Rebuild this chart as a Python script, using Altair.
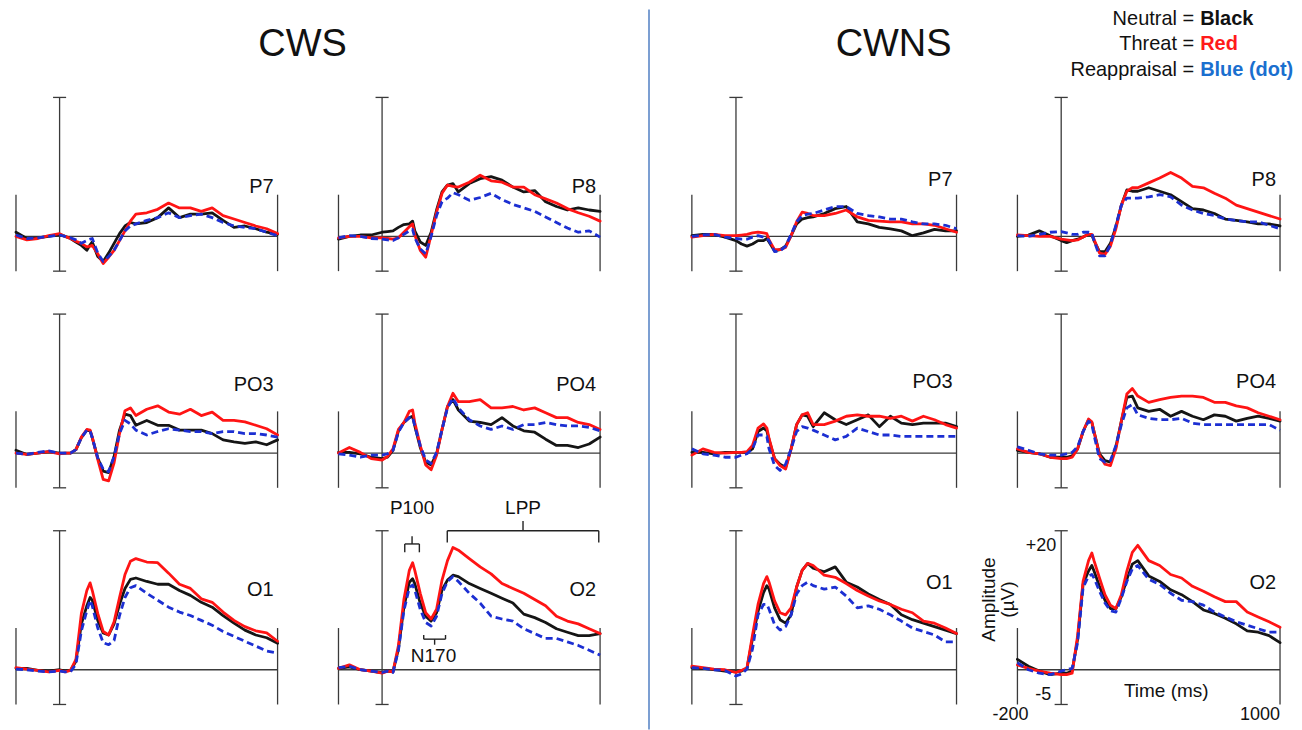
import altair as alt
import pandas as pd

FONT = "Liberation Sans"

# ---------------- data ----------------
TIME = [-200, -150, -100, -50, 0, 25, 50, 75, 100, 125, 140, 150, 175, 200, 225, 250,
        275, 300, 325, 350, 400, 450, 500, 550, 600, 650, 700, 750, 800, 850, 900, 950, 1000]

# CWS group -- Neutral (black), Threat (red), Reappraisal (blue dashed)
CWS_P7_N = [0.6,-0.3,-0.2,0, 0.3,0,-0.3,-0.8, -1.3,-2.0,-1.2,-0.8, -2.9,-3.6,-2.4,-1.0, 0.4,1.5,2.0,1.8, 2.0,2.7,4.1,2.7, 3.2,3.2,3.4,2.3, 1.3,1.5,1.1,0.6, 0.3]
CWS_P7_T = [0,-0.5,-0.3,0.1, 0.4,0,-0.3,-0.7, -1.0,-1.5,-1.4,-1.3, -2.5,-3.9,-3.0,-2.0, -0.6,0.8,2.2,3.2, 3.4,3.9,4.8,4.1, 4.1,3.6,4.1,3.0, 2.5,2.0,1.5,1.1, 0.4]
CWS_P7_R = [0.2,-0.3,-0.2,0, 0.2,0,-0.2,-0.5, -1.0,-0.6,-0.4,-0.3, -2.4,-3.6,-2.9,-2.0, -0.6,0.8,1.5,1.8, 2.3,2.7,3.4,2.7, 3.0,3.2,2.7,2.0, 1.5,1.3,1.1,0.6, 0.1]

CWS_P8_N = [-0.4,0,0.2,0.2, 0.6,0.7,0.8,1.3, 1.7,1.8,2.2,0.8, -0.8,-1.3,0.6,3.8, 6.4,7.4,7.6,6.4, 7.6,8.3,8.6,8.1, 7.1,6.4,6.6,5.0, 4.3,3.8,4.1,3.8, 3.6]
CWS_P8_T = [-0.2,0,0,-0.2, -0.2,-0.3,-0.4,-0.2, 0.6,1.4,1.8,0.2, -2.0,-3.0,0.2,3.5, 6.2,7.4,7.2,7.1, 7.8,8.8,8.0,7.8, 7.1,7.1,6.0,5.4, 4.8,4.0,3.4,2.9, 2.2]
CWS_P8_R = [-0.2,0.1,0,-0.3, -0.4,-0.5,-0.6,-0.2, 0.3,0.8,1.0,-0.2, -1.8,-2.5,0,3.0, 5.0,5.5,6.3,6.0, 5.2,5.6,6.2,5.3, 4.6,4.1,3.6,2.8, 2.0,1.2,0.6,0.8, -0.1]

CWS_PO3_N = [0.4,-0.2,0,0.2, 0,0,0,0.5, 2.2,3.3,3.2,2.2, -0.7,-2.6,-2.8,-0.5, 3.3,5.6,5.4,4.0, 4.7,4.0,4.0,3.3, 3.3,3.3,2.8,1.9, 1.6,1.4,1.6,1.2, 1.9]
CWS_PO3_T = [0,-0.2,0,0.2, -0.1,0,0,0.5, 2.3,3.4,3.3,2.3, -0.9,-3.8,-4.0,-1.4, 2.8,6.1,6.5,5.4, 6.3,6.8,5.9,5.6, 6.3,5.4,5.9,4.7, 4.7,4.5,4.0,3.5, 2.6]
CWS_PO3_R = [0,-0.2,0.1,0.3, 0,0,0,0.5, 2.2,3.3,3.2,2.2, -0.7,-2.3,-2.7,-0.5, 2.8,4.7,4.2,3.3, 2.6,3.1,3.5,3.3, 3.1,3.1,2.8,3.1, 3.1,2.8,2.8,2.6, 2.3]

CWS_PO4_N = [0.1,0.1,-0.1,-0.6, -0.8,-0.6,0.4,3.2, 4.4,5.1,5.3,3.9, 0.8,-1.3,-1.7,-0.1, 3.4,6.7,7.7,6.2, 4.6,4.4,4.1,5.1, 3.9,3.2,3.0,2.0, 1.1,1.1,0.8,1.3, 2.3]
CWS_PO4_T = [0,0.8,0.1,-0.8, -1.0,-0.5,0.6,3.4, 4.4,6.0,6.2,4.4, 1.1,-1.7,-2.4,-0.3, 3.4,6.7,8.6,7.4, 7.4,7.7,6.5,6.5, 6.7,6.2,6.5,5.8, 5.1,5.1,4.4,4.1, 3.4]
CWS_PO4_R = [-0.1,-0.3,-0.6,-0.3, -0.3,-0.1,0.4,3.0, 4.4,5.1,5.2,3.9, 1.1,-1.0,-1.5,0.1, 3.4,6.5,7.9,6.5, 4.8,3.9,3.4,3.9, 3.4,4.1,4.1,4.4, 4.1,3.9,3.9,3.7, 3.2]

CWS_O1_N = [0.2,0.2,-0.1,-0.2, 0,-0.2,-0.1,1.2, 6.6,9.2,10.4,10.0, 7.1,5.3,5.0,6.6, 9.4,11.7,13.0,13.2, 12.7,12.3,12.3,11.4, 10.7,9.7,9.0,7.8, 6.7,5.7,5.0,4.6, 3.8]
CWS_O1_T = [0.3,0.1,-0.1,-0.3, -0.1,-0.3,-0.1,1.5, 8.1,11.4,12.5,11.4, 8.1,5.5,5.0,6.9, 10.4,13.7,15.6,16.0, 15.5,15.4,13.9,12.3, 11.7,10.2,9.7,8.3, 7.1,6.2,5.6,5.3, 4.1]
CWS_O1_R = [0.1,0,-0.2,-0.3, -0.2,-0.3,-0.3,0.8, 5.6,8.5,10.0,9.2, 6.0,3.9,3.6,4.2, 7.8,10.4,11.8,12.1, 11.0,10.0,9.0,8.3, 7.8,7.1,6.4,5.5, 4.8,4.1,3.4,2.7, 2.4]

CWS_O2_N = [0.2,0.4,0,-0.2, -0.4,-0.2,-0.3,3.0, 9.0,12.6,13.1,12.4, 9.6,7.7,7.0,8.2, 11.5,12.9,13.6,13.4, 12.4,11.7,11.0,10.3, 9.6,8.0,7.5,6.8, 5.9,5.4,4.9,4.9, 5.2]
CWS_O2_T = [0.2,0.7,0,-0.2, -0.5,-0.2,-0.3,3.5, 10.1,14.3,15.4,14.3, 11.0,8.2,7.3,8.7, 12.9,15.7,17.6,17.2, 16.0,14.8,13.8,12.4, 11.7,11.0,10.1,9.2, 7.7,7.0,6.6,5.9, 5.2]
CWS_O2_R = [0.3,0.5,0,-0.2, -0.4,-0.2,-0.4,2.8, 8.5,11.8,12.2,11.5, 8.7,6.8,6.3,7.7, 11.0,12.7,13.4,12.7, 11.0,9.6,7.7,7.3, 7.0,5.9,5.2,4.5, 4.5,4.0,3.5,2.8, 2.1]

# CWNS group
CWNS_P7_N = [0.1,0.3,0.3,-0.1, -0.6,-1.1,-1.4,-1.1, -0.6,-0.6,-0.3,-0.8, -2.1,-1.9,-1.4,0.1, 1.8,2.5,2.7,2.8, 3.3,4.0,4.3,2.1, 1.8,1.3,1.1,0.8, 0.1,0.5,1.0,0.8, 0.8]
CWNS_P7_T = [-0.1,0.1,0.3,0.1, 0.1,0.2,0.3,0.5, 0.6,0.5,0.4,-0.5, -1.9,-1.9,-1.6,0.1, 2.1,3.5,3.3,3.0, 3.0,3.3,3.8,2.8, 2.3,2.2,2.1,2.1, 1.8,1.8,1.6,1.1, 0.6]
CWNS_P7_R = [0,0.2,0.3,-0.1, -0.3,-0.4,-0.4,-0.1, 0.1,-0.1,-0.3,-0.6, -2.2,-2.1,-1.4,0.3, 2.1,3.0,3.2,3.3, 3.8,4.3,4.3,3.3, 3.0,2.8,2.5,2.5, 2.1,1.8,1.8,1.6, 1.1]

CWNS_P8_N = [0,0.2,0.8,0.1, -0.6,-0.9,-0.6,-0.4, -0.1,0.3,0.2,-0.6, -2.2,-2.2,-1.0,1.4, 4.5,6.7,6.5,6.5, 7.0,6.5,6.0,5.0, 4.0,3.8,3.3,2.5, 2.3,2.1,1.8,1.8, 1.5]
CWNS_P8_T = [0.2,0.1,0,0, -0.4,-0.5,-0.6,-0.5, -0.1,0.3,0.3,-0.4, -2.4,-2.6,-1.4,1.1, 4.5,6.5,7.0,7.0, 7.7,8.4,9.2,8.4, 7.2,7.0,6.2,5.5, 4.5,4.0,3.5,3.0, 2.5]
CWNS_P8_R = [0.1,0,0.3,0.6, 0.7,0.5,0.3,0.3, 0.6,0.6,0.5,-0.6, -2.8,-2.8,-1.2,1.6, 4.5,5.5,5.5,5.5, 5.7,6.0,5.7,4.5, 3.8,3.3,3.0,2.5, 2.3,2.1,2.1,1.6, 1.1]

CWNS_PO3_N = [0.1,0.1,-0.1,0.1, 0.1,0.1,0.1,0.6, 3.1,3.6,3.2,1.9, -0.8,-1.6,-2.1,0.6, 4.1,5.5,5.3,3.8, 5.8,4.8,4.1,4.8, 5.5,3.8,5.3,4.3, 4.1,4.3,4.3,4.3, 3.8]
CWNS_PO3_T = [-0.3,0.6,0.1,0, 0.1,0.1,0.2,1.1, 3.6,4.2,3.6,2.1, -0.8,-1.8,-2.3,0.6, 4.1,5.5,5.8,4.1, 4.1,4.6,5.3,5.5, 5.3,5.3,5.0,5.3, 4.6,5.3,4.8,4.1, 3.6]
CWNS_PO3_R = [0.6,-0.1,-0.3,-0.6, -0.6,-0.3,-0.1,0.6, 2.6,2.6,2.4,0.6, -1.8,-2.5,-1.6,0.6, 3.1,3.8,3.6,3.3, 2.6,1.9,2.4,3.6, 3.1,2.6,2.6,2.4, 2.4,2.4,2.4,2.4, 2.4]

CWNS_PO4_N = [0.4,0.1,-0.1,-0.6, -0.6,-0.6,-0.4,0.6, 3.1,4.8,4.4,3.1, -0.1,-1.1,-1.3,0.9, 4.6,8.0,8.2,6.5, 6.0,6.3,5.3,6.0, 5.3,4.8,5.5,5.3, 4.6,5.0,5.3,5.0, 4.6]
CWNS_PO4_T = [0.6,0.1,-0.1,-0.6, -0.8,-0.8,-0.6,0.6, 3.1,4.9,4.5,3.1, -0.3,-1.6,-1.8,0.6, 4.6,8.5,9.3,8.2, 7.3,7.7,8.0,8.2, 8.2,8.0,7.3,7.3, 6.8,6.5,5.8,5.3, 4.8]
CWNS_PO4_R = [0.9,0.4,-0.1,-0.3, -0.3,-0.1,0.1,0.9, 3.1,4.6,4.1,2.6, -0.8,-1.3,-1.1,1.1, 4.1,6.5,7.0,5.5, 5.0,4.8,4.8,5.0, 4.3,4.1,4.1,4.1, 4.1,4.1,4.1,4.1, 3.3]

CWNS_O1_N = [0.3,0.2,0,-0.2, -0.3,-0.2,0.2,4.5, 8.4,11.1,12.1,11.6, 8.9,7.2,6.7,7.9, 11.9,14.3,15.3,14.6, 14.1,14.8,12.6,11.9, 10.9,10.1,9.4,7.9, 7.2,6.7,6.2,5.7, 5.2]
CWNS_O1_T = [0.5,0.3,0.1,0, -0.4,-0.1,0.3,5.0, 9.4,12.4,13.4,12.6, 9.9,8.2,7.9,8.9, 11.9,14.3,15.3,15.0, 13.6,13.3,12.4,11.4, 10.6,9.9,9.4,8.7, 8.2,7.0,6.7,6.0, 5.2]
CWNS_O1_R = [0.3,0.2,0,-0.1, -0.9,-0.6,0.1,3.0, 7.9,9.4,9.4,8.7, 6.5,5.7,6.2,7.9, 10.9,12.1,12.6,12.1, 11.6,11.9,10.6,8.9, 9.2,8.7,7.9,7.0, 6.0,5.5,5.0,4.0, 4.0]

CWNS_O2_N = [1.5,0.5,-0.2,-0.7, -0.5,-0.5,-0.2,4.4, 12.3,14.2,15.0,14.2, 12.0,10.0,8.8,8.8, 10.5,13.0,15.2,15.7, 13.5,12.7,11.5,10.8, 9.8,8.6,8.1,7.4, 6.6,5.6,5.4,4.9, 3.9]
CWNS_O2_T = [0.7,0.2,-0.2,-0.5, -0.7,-0.7,-0.5,4.9, 12.7,15.7,16.8,15.7, 13.2,10.8,9.3,8.8, 10.8,14.2,16.9,17.9, 15.7,15.0,13.7,13.2, 12.0,11.3,10.5,9.8, 9.8,8.3,7.6,6.9, 6.1]
CWNS_O2_R = [1.0,0,-0.5,-0.7, -0.2,0,0.2,3.9, 11.8,13.5,13.7,13.2, 11.3,9.6,8.5,8.3, 10.3,12.7,14.5,15.0, 13.0,12.3,11.0,10.0, 9.8,9.3,8.3,7.6, 6.9,6.4,5.9,5.4, 5.4]

SERIES = {
    ("CWS", "P7"): (CWS_P7_N, CWS_P7_T, CWS_P7_R),
    ("CWS", "P8"): (CWS_P8_N, CWS_P8_T, CWS_P8_R),
    ("CWS", "PO3"): (CWS_PO3_N, CWS_PO3_T, CWS_PO3_R),
    ("CWS", "PO4"): (CWS_PO4_N, CWS_PO4_T, CWS_PO4_R),
    ("CWS", "O1"): (CWS_O1_N, CWS_O1_T, CWS_O1_R),
    ("CWS", "O2"): (CWS_O2_N, CWS_O2_T, CWS_O2_R),
    ("CWNS", "P7"): (CWNS_P7_N, CWNS_P7_T, CWNS_P7_R),
    ("CWNS", "P8"): (CWNS_P8_N, CWNS_P8_T, CWNS_P8_R),
    ("CWNS", "PO3"): (CWNS_PO3_N, CWNS_PO3_T, CWNS_PO3_R),
    ("CWNS", "PO4"): (CWNS_PO4_N, CWNS_PO4_T, CWNS_PO4_R),
    ("CWNS", "O1"): (CWNS_O1_N, CWNS_O1_T, CWNS_O1_R),
    ("CWNS", "O2"): (CWNS_O2_N, CWNS_O2_T, CWNS_O2_R),
}
ROWS = [["P7", "P8"], ["PO3", "PO4"], ["O1", "O2"]]

# ERP component windows (ms) marked in CWS O2
P100_WIN = [104, 171]
N170_WIN = [191, 291]
LPP_WIN = [299, 994]

# legend
LEG_LEFT = ["Neutral =", "Threat =", "Reappraisal ="]
LEG_RIGHT = ["Black", "Red", "Blue (dot)"]

# ---------------- styling / layout ----------------
EPOCH = [-200, 1000]
Y_DOM = [-5, 20]
PANEL_H = 174
# per column: (width, x-domain); the third column carries extra left margin
COLS = [(262, [-200, 1000]), (262, [-200, 1000]), (296, [-340, 1000]), (263, [-200, 1000])]
COL_SPACING = 61
ROW_SPACING = 43
HEAD_H = 46
LINE_STYLE = [("N", "#151515", None), ("T", "#ff1414", None), ("R", "#1c2fd2", [7, 4])]
LEG_COLORS = ["#111111", "#ff1a1a", "#1a6fcf"]
AX_COLOR = "#3a3a3a"
LABEL_Y = {"CWS": [6.2, 8.9, 10.6], "CWNS": [7.2, 9.4, 11.6]}

one = pd.DataFrame({"k": [0]})


def xs(xdom):
    return alt.Scale(domain=xdom, nice=False, zero=False)


YS = alt.Scale(domain=Y_DOM, nice=False, zero=False)


def seg_layer(segs, xdom, color=AX_COLOR, width=1.3):
    df = pd.DataFrame(segs, columns=["x", "x2", "y", "y2"])
    return alt.Chart(df).mark_rule(color=color, strokeWidth=width).encode(
        x=alt.X("x:Q", scale=xs(xdom), axis=None), x2="x2:Q",
        y=alt.Y("y:Q", scale=YS, axis=None), y2="y2:Q",
    )


def txt(text, x, y, xdom, size=20, align="center", baseline="middle", dx=0, dy=0, angle=0):
    kw = dict(font=FONT, fontSize=size, align=align, baseline=baseline, dx=dx, dy=dy, color="#111")
    if angle:
        kw["angle"] = angle
    return alt.Chart(one).transform_calculate(xx=str(x), yy=str(y)).mark_text(**kw).encode(
        x=alt.X("xx:Q", scale=xs(xdom), axis=None),
        y=alt.Y("yy:Q", scale=YS, axis=None),
        text=alt.value(text),
    )


def panel(group, ch, row, col):
    w, xdom = COLS[col]
    n, t, r = SERIES[(group, ch)]
    vals = {"N": n, "T": t, "R": r}
    e0, e1 = EPOCH
    layers = [seg_layer([
        (e0, e1, 0, 0),                    # zero line
        (0, 0, Y_DOM[0], Y_DOM[1]),        # amplitude axis at stimulus onset
        (-30, 30, Y_DOM[1], Y_DOM[1]),
        (-30, 30, Y_DOM[0], Y_DOM[0]),
        (e0, e0, Y_DOM[0], 6),             # epoch limits
        (e1, e1, Y_DOM[0], 6),
    ], xdom)]
    for key, color, dash in LINE_STYLE:
        df = pd.DataFrame({"time": TIME, "amp": vals[key]})
        mk = dict(color=color, strokeWidth=2.8, strokeJoin="round", strokeCap="round")
        if dash:
            mk["strokeDash"] = dash
            mk["strokeCap"] = "butt"
        layers.append(alt.Chart(df).mark_line(**mk).encode(
            x=alt.X("time:Q", scale=xs(xdom), axis=None),
            y=alt.Y("amp:Q", scale=YS, axis=None),
        ))
    layers.append(txt(ch, e1, LABEL_Y[group][row], xdom, size=20, align="right",
                      baseline="alphabetic", dx=-4))

    if group == "CWS" and ch == "O2":
        p0, p1 = P100_WIN
        n0, n1 = N170_WIN
        l0, l1 = LPP_WIN
        pc, nc, lc = (p0 + p1) / 2, (n0 + n1) / 2, (l0 + l1) / 2
        layers.append(seg_layer([
            (p0, p1, 18.1, 18.1), (p0, p0, 16.9, 18.1), (p1, p1, 16.9, 18.1), (pc, pc, 18.1, 19.2),
            (n0, n1, 4.4, 4.4), (n0, n0, 4.4, 5.0), (n1, n1, 4.4, 5.0), (nc, nc, 3.6, 4.4),
            (l0, l1, 20.0, 20.0), (l0, l0, 18.3, 20.0), (l1, l1, 18.3, 20.0), (lc, lc, 20.0, 21.4),
        ], xdom, color="#222", width=1.4))
        layers.append(txt("P100", pc, 23.3, xdom, size=19))
        layers.append(txt("LPP", lc, 23.3, xdom, size=19))
        layers.append(txt("N170", nc - 5, 2.0, xdom, size=19))

    if group == "CWNS" and ch == "O2":
        layers.append(txt("+20", 0, 20, xdom, size=18, align="right", baseline="top", dx=-5, dy=6))
        layers.append(txt("-5", 0, -5, xdom, size=18, align="right", baseline="bottom", dx=-10))
        layers.append(txt("-200", -200, -5, xdom, size=18, align="center", baseline="top", dx=-7, dy=2))
        layers.append(txt("1000", 1000, -5, xdom, size=18, align="right", baseline="top", dy=2))
        layers.append(txt("Time (ms)", 480, -3.0, xdom, size=19))
        layers.append(txt("Amplitude", -331, 10.1, xdom, size=19, angle=270))
        layers.append(txt("(µV)", -241, 10.1, xdom, size=19, angle=270))

    return alt.layer(*layers).properties(width=w, height=PANEL_H)


def text_at(text, x, y, size, align="center", baseline="middle", bold=False, color="#111"):
    kw = dict(font=FONT, fontSize=size, align=align, baseline=baseline, color=color)
    if bold:
        kw["fontWeight"] = "bold"
    return alt.Chart(one).mark_text(**kw).encode(
        x=alt.value(x), y=alt.value(y), text=alt.value(text))


# header cells (titles, legend, group divider)
head = [
    alt.layer(text_at("CWS", 287, 37, 38)),
    alt.layer(text_at(" ", 20, 20, 10)),
    alt.layer(
        alt.Chart(one).mark_rule(color="#7c9fd2", strokeWidth=2).encode(
            x=alt.value(-12), y=alt.value(1), y2=alt.value(722)),
        text_at("CWNS", 233, 37, 38),
    ),
    alt.layer(*[
        lay for i, (lt, rt, c) in enumerate(zip(LEG_LEFT, LEG_RIGHT, LEG_COLORS))
        for lay in (text_at(lt, 177, 26 * i, 20, align="right", baseline="top"),
                    text_at(rt, 183, 26 * i, 20, align="left", baseline="top", bold=True, color=c))
    ]),
]
cells = [h.properties(width=COLS[i][0], height=HEAD_H) for i, h in enumerate(head)]

for r, (a, b) in enumerate(ROWS):
    cells.append(panel("CWS", a, r, 0))
    cells.append(panel("CWS", b, r, 1))
    cells.append(panel("CWNS", a, r, 2))
    cells.append(panel("CWNS", b, r, 3))

chart = alt.concat(
    *cells, columns=4, spacing={"row": ROW_SPACING, "column": COL_SPACING},
    bounds="flush", align="each"
).configure_view(stroke=None).properties(
    background="white", padding={"left": 6, "top": 0, "right": 0, "bottom": 0}
)

chart.save("out.html", embed_options={"renderer": "svg", "actions": False})
